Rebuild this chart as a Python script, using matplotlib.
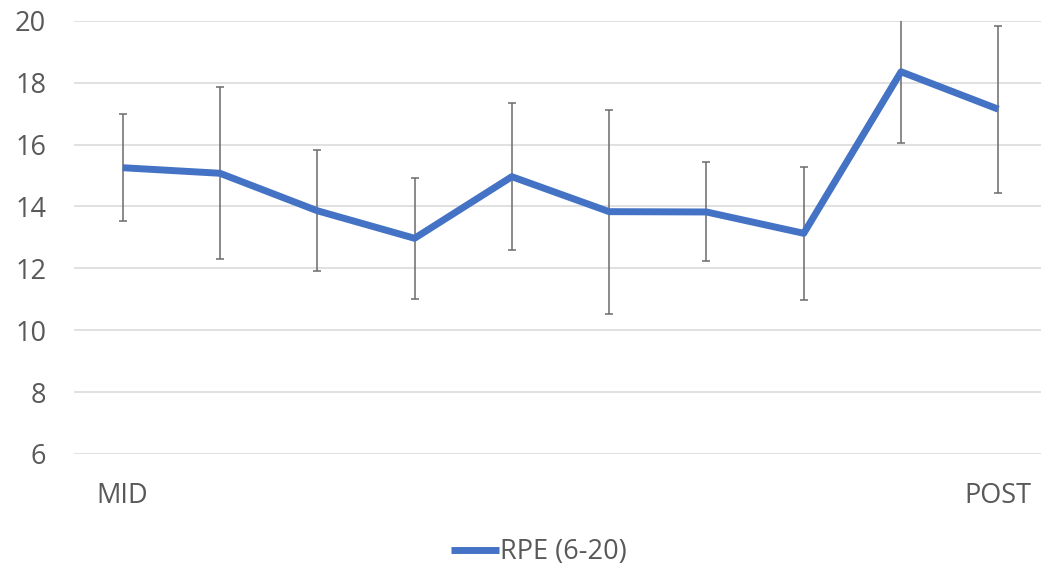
import matplotlib.pyplot as plt
import numpy as np

# session labels (only first and last are labelled on the chart)
categories = ['MID', '', '', '', '', '', '', '', '', 'POST']
rpe_mean = [15.25, 15.07, 13.86, 12.97, 14.96, 13.83, 13.82, 13.13, 18.35, 17.14]
rpe_sd = [1.72, 2.78, 1.95, 1.95, 2.37, 3.3, 1.6, 2.14, 2.31, 2.7]

plt.rcParams['font.family'] = ['Open Sans', 'DejaVu Sans']
text_col = '#595959'

fig = plt.figure(figsize=(10.41, 5.72), dpi=100)
ax = fig.add_axes([74 / 1041, 1 - 454 / 572, (1047 - 74) / 1041, (454 - 20.7) / 572])

x = np.arange(len(categories))
ax.errorbar(x, rpe_mean, yerr=rpe_sd, fmt='none', ecolor='#6b6b6b',
            elinewidth=1.1, capsize=3, capthick=1.1, zorder=2)
ax.plot(x, rpe_mean, color='#4472C4', lw=5, solid_joinstyle='round',
        solid_capstyle='butt', label='RPE (6-20)', zorder=3)

ax.set_xlim(-0.5, len(categories) - 0.5)
ax.set_ylim(6, 20)
ax.set_yticks(np.arange(6, 21, 2))
ax.set_xticks(x)
ax.set_xticklabels(categories)
ax.grid(axis='y', color='#d9d9d9', lw=1.1)
ax.set_axisbelow(True)
for s in ax.spines.values():
    s.set_visible(False)
ax.tick_params(axis='both', length=0, labelsize=19.5, colors=text_col)
ax.tick_params(axis='y', pad=20)
ax.tick_params(axis='x', pad=20)

fig.legend(loc='center', bbox_to_anchor=(539 / 1041, 1 - 552 / 572),
           frameon=False, fontsize=19.5, handlelength=1.75, handletextpad=0.05,
           labelcolor=text_col)

fig.savefig('out.png', dpi=100)
